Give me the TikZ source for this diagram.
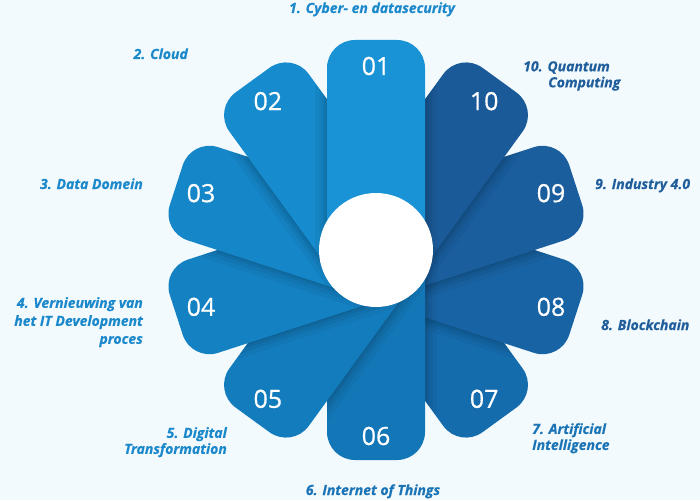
\documentclass[tikz,border=0pt]{standalone}
\usepackage{fontspec}
\setmainfont{Open Sans}
\newfontfamily\numfont{Open Sans}[FakeBold=0.6]
\newcommand\lblfont{\bfseries\itshape\addfontfeatures{FakeBold=0.4}}
\usetikzlibrary{positioning}
\definecolor{bgc}{HTML}{F3FAFE}
\definecolor{p1}{HTML}{1993D5}
\definecolor{p2}{HTML}{168BCD}
\definecolor{p3}{HTML}{1586C7}
\definecolor{p4}{HTML}{1481C2}
\definecolor{p5}{HTML}{137CBC}
\definecolor{p6}{HTML}{1377B7}
\definecolor{p7}{HTML}{156CAD}
\definecolor{p8}{HTML}{1863A4}
\definecolor{p9}{HTML}{1A5E9E}
\definecolor{p10}{HTML}{1B5A98}
\definecolor{labL}{HTML}{1A88CA}
\definecolor{labM}{HTML}{1A74B5}
\definecolor{labR}{HTML}{1F5E9B}
\newcommand\petalpath{(-49,-20) -- (-49,182) arc[start angle=180,end angle=90,radius=28pt] -- (21,210) arc[start angle=90,end angle=0,radius=28pt] -- (49,-20) -- cycle}
\newcommand\drawpetal[2]{\fill[#2,rotate=#1] \petalpath;}
\newcommand\shadowon[2]{%
  \begin{scope}
    \clip[rotate=#2] \petalpath;
    \clip (0,0) circle (175pt);
    \draw[black,opacity=.04,line width=24,rotate=#1] \petalpath;
    \draw[black,opacity=.05,line width=15,rotate=#1] \petalpath;
    \draw[black,opacity=.06,line width=8,rotate=#1] \petalpath;
    \draw[black,opacity=.06,line width=3,rotate=#1] \petalpath;
  \end{scope}}
\tikzset{
  numlbl/.style={text=white,font=\numfont\fontsize{25}{25}\selectfont,inner sep=0pt},
  lbl/.style={font=\lblfont\fontsize{14}{16}\selectfont,inner sep=0pt}
}
\begin{document}
\begin{tikzpicture}[x=1pt,y=1pt]
\useasboundingbox (0,0) rectangle (700,-500);
\fill[bgc] (0,0) rectangle (700,-500);
\begin{scope}[shift={(376,-250)}]
  % order: 07,08,09,10,06,05,04,03,02,01
  \drawpetal{216}{p7}
  \shadowon{252}{216}\drawpetal{252}{p8}
  \shadowon{288}{252}\drawpetal{288}{p9}
  \shadowon{324}{288}\drawpetal{324}{p10}
  \shadowon{180}{216}\drawpetal{180}{p6}
  \shadowon{144}{180}\drawpetal{144}{p5}
  \shadowon{108}{144}\drawpetal{108}{p4}
  \shadowon{72}{108}\drawpetal{72}{p3}
  \shadowon{36}{72}\drawpetal{36}{p2}
  \shadowon{0}{36}\shadowon{0}{324}\drawpetal{0}{p1}
  \fill[white] (0,0) circle (57pt);
  \node[numlbl] (n01) at (90:184) {01};
  \node[numlbl] (n02) at (126:184) {02};
  \node[numlbl] (n03) at (162:184) {03};
  \node[numlbl] (n04) at (198:184) {04};
  \node[numlbl] (n05) at (234:184) {05};
  \node[numlbl] (n06) at (270:186) {06};
  \node[numlbl] (n07) at (306:184) {07};
  \node[numlbl] (n08) at (342:184) {08};
  \node[numlbl] (n09) at (18:184) {09};
  \node[numlbl] (n10) at (54:184) {10};
\end{scope}
\node[lbl,text=labL,anchor=base] (l1) at (372,-13) {1. Cyber- en datasecurity};
\node[lbl,text=labL,anchor=base east] (l2) at (188,-59) {2. Cloud};
\node[lbl,text=labL,anchor=base east] (l3) at (143,-189) {3. Data Domein};
\node[lbl,text=labL,anchor=north east,align=right,font=\lblfont\fontsize{14}{18}\selectfont] (l4) at (143,-297) {4. Vernieuwing van\\het IT Development\\proces};
\node[lbl,text=labL,anchor=north east,align=right] (l5) at (227,-427) {5. Digital\\Transformation};
\node[lbl,text=labM,anchor=base] (l6) at (373,-495) {6. Internet of Things};
\node[lbl,text=labM,anchor=north west,align=left] (l7) at (532,-423) {7. Artificial\\Intelligence};
\node[lbl,text=labR,anchor=base west] (l8) at (601,-330) {8. Blockchain};
\node[lbl,text=labR,anchor=base west] (l9) at (595,-189) {9. Industry 4.0};
\node[lbl,text=labR,anchor=north west,align=left] (l10) at (523,-61) {10. Quantum\\\hspace*{25pt}Computing};
\end{tikzpicture}
\end{document}
